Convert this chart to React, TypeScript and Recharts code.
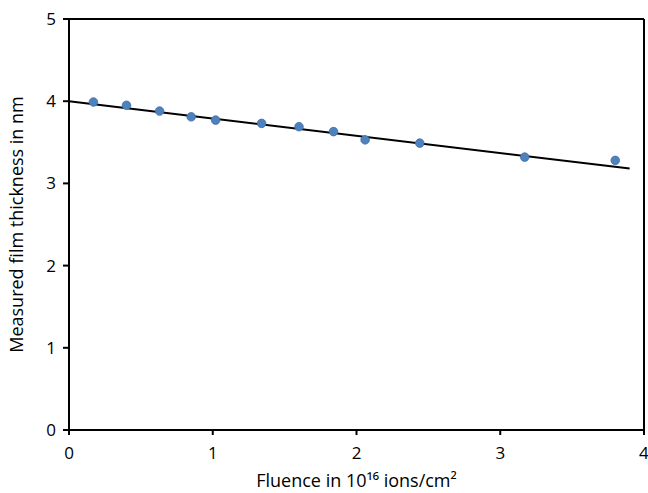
import { ScatterChart, Scatter, XAxis, YAxis, ReferenceLine, Label } from 'recharts'

const fluence = [0.17, 0.4, 0.63, 0.85, 1.02, 1.34, 1.6, 1.84, 2.06, 2.44, 3.17, 3.8]
const thickness = [3.99, 3.95, 3.88, 3.81, 3.77, 3.73, 3.69, 3.63, 3.53, 3.49, 3.32, 3.28]

const trendX = [0, 3.9]
const trendY = [4.0, 3.18]

const xTicks = [0, 1, 2, 3, 4]
const yTicks = [0, 1, 2, 3, 4, 5]

const points = fluence.map((x, i) => ({ x, y: thickness[i] }))
const trend = trendX.map((x, i) => ({ x, y: trendY[i] }))

const font = 'Open Sans, Liberation Sans, sans-serif'

const Dot = (props: any) => {
  const { cx, cy } = props
  return <circle cx={cx} cy={cy} r={4.3} fill="#4F81BD" stroke="#3D6DA8" strokeWidth={0.8} />
}

const NoDot = () => <g />

const App = () => {
  return (
    <div style={{ position: 'absolute', left: 0, top: 0 }}>
      <ScatterChart width={648} height={493} margin={{ top: 19, right: 4, bottom: 0, left: 0 }}>
        <XAxis
          type="number"
          dataKey="x"
          domain={[0, 4]}
          ticks={xTicks}
          height={63}
          stroke="#000"
          strokeWidth={2}
          tickSize={5}
          tickMargin={12}
          tick={{ fill: '#000', fontSize: 17, fontFamily: font }}
        >
          <Label
            value="Fluence in 10¹⁶ ions/cm²"
            position="insideBottom"
            offset={6}
            style={{ fill: '#000', fontSize: 18, fontFamily: font }}
          />
        </XAxis>
        <YAxis
          type="number"
          dataKey="y"
          domain={[0, 5]}
          ticks={yTicks}
          width={69}
          stroke="#000"
          strokeWidth={2}
          tickSize={6}
          tickMargin={7}
          tick={{ fill: '#000', fontSize: 17, fontFamily: font }}
        >
          <Label
            value="Measured film thickness in nm"
            angle={-90}
            position="insideLeft"
            offset={17}
            style={{ textAnchor: 'middle', fill: '#000', fontSize: 18, fontFamily: font }}
          />
        </YAxis>
        <ReferenceLine y={5} stroke="#000" strokeWidth={2} />
        <ReferenceLine x={4} stroke="#000" strokeWidth={2} />
        <Scatter
          data={trend}
          line={{ stroke: '#000', strokeWidth: 2 }}
          shape={NoDot}
          isAnimationActive={false}
          legendType="none"
        />
        <Scatter data={points} shape={Dot} isAnimationActive={false} />
      </ScatterChart>
    </div>
  )
}

export default App
